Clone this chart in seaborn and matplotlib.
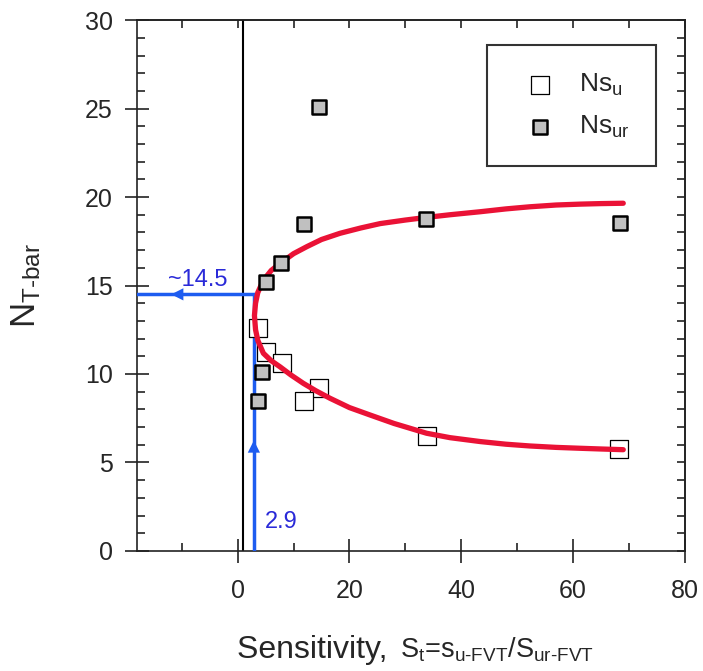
import matplotlib
matplotlib.use("Agg")
import matplotlib.pyplot as plt
import seaborn as sns
import pandas as pd
from matplotlib.ticker import MultipleLocator, FixedLocator, NullFormatter

# ---- data ----
nsu_x = [3.6, 5.1, 7.9, 14.6, 11.9, 33.8, 68.3]
nsu_y = [12.6, 11.25, 10.6, 9.2, 8.5, 6.5, 5.75]
nsur_x = [14.6, 11.9, 7.7, 5.1, 4.3, 3.6, 33.7, 68.4]
nsur_y = [25.1, 18.45, 16.3, 15.2, 10.1, 8.5, 18.75, 18.55]

fit_upper_x = [3.0, 3.2, 3.6, 4.6, 6.0, 7.6, 10.0, 12.4, 15.0, 18.3, 22.0, 25.5,
               30.0, 33.8, 38.0, 43.4, 48.0, 52.3, 57.0, 61.3, 65.0, 69.0]
fit_upper_y = [13.3, 14.0, 14.6, 15.3, 15.85, 16.25, 16.8, 17.2, 17.6, 17.95, 18.25, 18.5,
               18.7, 18.85, 19.0, 19.17, 19.33, 19.45, 19.55, 19.6, 19.63, 19.65]
fit_lower_x = [3.0, 3.2, 3.6, 4.6, 6.0, 7.6, 9.5, 11.75, 14.0, 16.5, 20.0, 23.7,
               28.0, 33.8, 38.0, 43.4, 48.0, 52.3, 57.0, 61.3, 65.0, 69.0]
fit_lower_y = [13.3, 12.5, 11.9, 11.17, 10.75, 10.4, 9.95, 9.47, 9.05, 8.63, 8.1, 7.68,
               7.2, 6.65, 6.4, 6.18, 6.03, 5.93, 5.85, 5.8, 5.76, 5.72]

st_value = 2.9
n_value = 14.5
unity_x = 1.0

x_major = [0, 20, 40, 60, 80]
x_minor = [-10, 10, 30, 50, 70]
y_major = [0, 5, 10, 15, 20, 25, 30]

HY = '\u2010'  # typographic hyphen

# ---- style ----
sns.set_style("ticks")
plt.rcParams['font.family'] = ['Liberation Sans', 'DejaVu Sans']
plt.rcParams['mathtext.fontset'] = 'custom'
plt.rcParams['mathtext.rm'] = 'Liberation Sans'
plt.rcParams['mathtext.it'] = 'Liberation Sans'
plt.rcParams['mathtext.default'] = 'rm'

fig = plt.figure(figsize=(7.03, 6.71), dpi=100)
ax = fig.add_axes([0.195, 0.179, 0.779, 0.791])

ink = '#222222'

# unity line
ax.axvline(unity_x, color='black', lw=1.5, zorder=2)

# blue guide lines
df_h = pd.DataFrame({'x': [-18, st_value], 'y': [n_value, n_value]})
df_v = pd.DataFrame({'x': [st_value, st_value], 'y': [0, n_value]})
blue = '#1d5cf0'
sns.lineplot(data=df_h, x='x', y='y', ax=ax, color=blue, lw=2.5, sort=False, estimator=None, zorder=3)
sns.lineplot(data=df_v, x='x', y='y', ax=ax, color=blue, lw=2.5, sort=False, estimator=None, zorder=3)
ax.annotate('', xy=(-12.4, n_value), xytext=(-10.0, n_value),
            arrowprops=dict(arrowstyle='-|>', color=blue, lw=0, mutation_scale=22), zorder=4)
ax.annotate('', xy=(st_value, 6.4), xytext=(st_value, 5.0),
            arrowprops=dict(arrowstyle='-|>', color=blue, lw=0, mutation_scale=22), zorder=4)
ax.text(-7.1, 14.95, '~' + f'{n_value}', color='#2a2ad8', fontsize=17, ha='center', va='baseline')
ax.text(4.9, 1.3, f'{st_value}', color='#2a2ad8', fontsize=17, ha='left', va='baseline')

# fitted curve
fit_x = fit_lower_x[::-1] + fit_upper_x
fit_y = fit_lower_y[::-1] + fit_upper_y
df_fit = pd.DataFrame({'x': fit_x, 'y': fit_y})
sns.lineplot(data=df_fit, x='x', y='y', ax=ax, color='#ea1236', lw=3.8, sort=False,
             estimator=None, zorder=5)

# points
df_u = pd.DataFrame({'x': nsu_x, 'y': nsu_y})
df_ur = pd.DataFrame({'x': nsur_x, 'y': nsur_y})
sns.scatterplot(data=df_u, x='x', y='y', ax=ax, marker='s', s=150, color='white',
                edgecolor='black', linewidth=0.9, zorder=4, label=r'Ns$_\mathregular{u}$')
sns.scatterplot(data=df_ur, x='x', y='y', ax=ax, marker='s', s=105, color='#c0c0c0',
                edgecolor='black', linewidth=1.8, zorder=6, label=r'Ns$_\mathregular{ur}$')

ax.set_xlim(-18, 80)
ax.set_ylim(0, 30)
ax.set_xlabel('')
ax.set_ylabel(r'N$_\mathregular{T' + HY + r'bar}$', fontsize=25, labelpad=30)

ax.xaxis.set_major_locator(FixedLocator(x_major))
ax.xaxis.set_minor_locator(FixedLocator(x_minor))
ax.yaxis.set_major_locator(FixedLocator(y_major))
ax.yaxis.set_minor_locator(MultipleLocator(1))
ax.tick_params(axis='both', which='major', direction='inout', length=17, width=1.2,
               labelsize=18, color=ink)
ax.tick_params(axis='x', which='major', pad=12)
ax.tick_params(axis='y', which='major', pad=9)
ax.tick_params(axis='both', which='minor', direction='in', length=6, width=1.2, color=ink)
for sp in ax.spines.values():
    sp.set_linewidth(1.2)
    sp.set_color(ink)

# top and right inward ticks
sec_x = ax.secondary_xaxis('top')
sec_x.xaxis.set_major_locator(FixedLocator(list(range(-10, 81, 10))))
sec_x.xaxis.set_major_formatter(NullFormatter())
sec_x.tick_params(direction='in', length=6, width=1.2, color=ink)
sec_y = ax.secondary_yaxis('right')
sec_y.yaxis.set_major_locator(MultipleLocator(1))
sec_y.yaxis.set_major_formatter(NullFormatter())
sec_y.tick_params(direction='in', length=6, width=1.2, color=ink)
for s in (sec_x, sec_y):
    for sp in s.spines.values():
        sp.set_linewidth(1.2)
        sp.set_color(ink)

leg = ax.legend(loc='upper left', bbox_to_anchor=(0.639, 0.953), fontsize=19,
                frameon=True, fancybox=False, edgecolor='black', borderpad=1.0,
                labelspacing=0.6, handletextpad=0.5, borderaxespad=0, markerscale=1.0)
leg.get_frame().set_linewidth(1.5)

# x label in two parts
fig.text(0.337, 0.020, 'Sensitivity, ', fontsize=23, ha='left', va='baseline')
fig.text(0.569, 0.020,
         r'S$_\mathregular{t}$=s$_\mathregular{u' + HY + r'FVT}$/S$_\mathregular{ur' + HY + r'FVT}$',
         fontsize=19.5, ha='left', va='baseline')

fig.savefig('out.png', dpi=100)
